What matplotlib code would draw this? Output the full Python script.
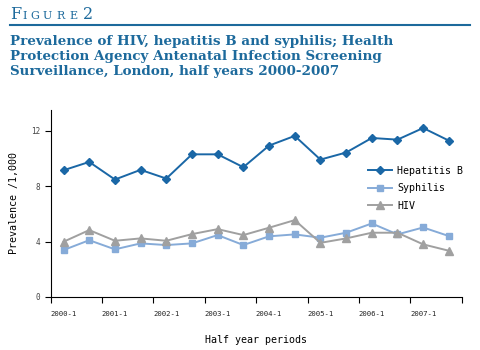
import matplotlib.pyplot as plt

periods = ["2000-1", "2000-2", "2001-1", "2001-2", "2002-1", "2002-2", "2003-1", "2003-2",
           "2004-1", "2004-2", "2005-1", "2005-2", "2006-1", "2006-2", "2007-1", "2007-2"]
hep_b = [9.15, 9.75, 8.48, 9.18, 8.55, 10.3, 10.3, 9.37,
         10.93, 11.63, 9.92, 10.43, 11.48, 11.36, 12.2, 11.29]
syphilis = [3.39, 4.1, 3.44, 3.87, 3.75, 3.87, 4.47, 3.75,
            4.38, 4.52, 4.28, 4.64, 5.31, 4.52, 5.02, 4.4]
hiv = [3.99, 4.83, 4.06, 4.23, 4.06, 4.54, 4.9, 4.47,
       5.0, 5.55, 3.91, 4.23, 4.64, 4.64, 3.8, 3.34]

blue = "#1a67a6"
title_col = "#1d6a9c"
mono = "DejaVu Sans Mono"

fig = plt.figure(figsize=(4.8, 3.5), dpi=100)

# header
letters = [("F", 11.5, 10), ("I", 8, 22), ("G", 8, 30), ("U", 8, 43), ("R", 8, 56), ("E", 8, 69), ("2", 11.5, 83)]
for ch, sz, px in letters:
    fig.text(px / 480, 1 - 19 / 350, ch, fontsize=sz, family="DejaVu Serif", color=title_col,
             va="baseline", ha="left")
fig.add_artist(plt.Line2D([10 / 480, 470 / 480], [1 - 25 / 350, 1 - 25 / 350],
                          color=title_col, lw=1.5, transform=fig.transFigure))
title = ("Prevalence of HIV, hepatitis B and syphilis; Health\n"
         "Protection Agency Antenatal Infection Screening\n"
         "Surveillance, London, half years 2000-2007")
fig.text(10 / 480, 1 - 35 / 350, title, fontsize=9.7, fontweight="bold", family="DejaVu Serif",
         color=title_col, va="top", ha="left", linespacing=1.2)

ax = fig.add_axes([50.7 / 480, 1 - 297 / 350, 411 / 480, 187 / 350])
x = [i + 0.5 for i in range(len(periods))]
ax.plot(x, hep_b, color=blue, marker="D", ms=4.5, lw=1.4, label="Hepatitis B")
ax.plot(x, syphilis, color="#86abd8", marker="s", ms=4.5, lw=1.4, label="Syphilis")
ax.plot(x, hiv, color="#a0a0a0", marker="^", ms=5.5, lw=1.4, label="HIV")

ax.set_xlim(0, 16)
ax.set_ylim(0, 13.5)
ax.set_yticks([0, 4, 8, 12])
ax.set_xticks(range(0, 17, 2))
ax.set_xticklabels([])
ax.set_xticks([i + 0.5 for i in range(0, 16, 2)], minor=True)
ax.set_xticklabels(periods[::2], minor=True)
ax.tick_params(axis="x", which="minor", length=0, pad=10, labelsize=5.2, labelcolor="#222222")
ax.tick_params(axis="x", which="major", length=4, direction="out")
ax.tick_params(axis="y", length=4, labelsize=5.5, labelcolor="#444444")
for lbl in ax.get_xticklabels(minor=True) + ax.get_yticklabels():
    lbl.set_family(mono)
for s in ["top", "right"]:
    ax.spines[s].set_visible(False)
ax.set_ylabel("Prevalence /1,000", family=mono, fontsize=7.2, labelpad=9)
ax.set_xlabel("Half year periods", family=mono, fontsize=7.2, labelpad=13)

ax.legend(loc="upper left", bbox_to_anchor=(0.75, 0.75), frameon=False,
          prop={"family": mono, "size": 7.2}, handlelength=2.4, labelspacing=0.75, handletextpad=0.5)

fig.savefig("out.png", dpi=100)
